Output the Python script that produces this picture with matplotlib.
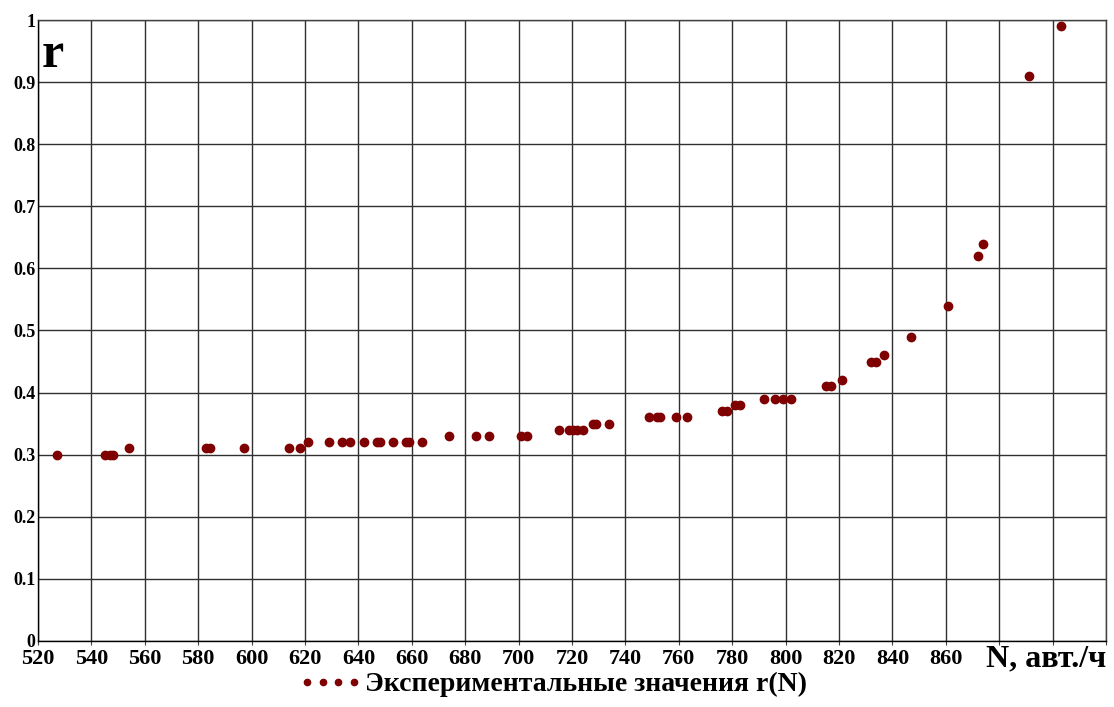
import matplotlib
matplotlib.use("Agg")
import matplotlib.pyplot as plt
from matplotlib.ticker import FuncFormatter

# experimental points r(N)
N = [527, 545, 547, 548, 554, 583, 584.5, 597, 614, 618,
     621, 629, 634, 637, 642, 647, 648, 653, 658, 659, 664,
     674, 684, 689, 701, 703,
     715, 719, 720.5, 722, 724,
     728, 729, 734,
     749, 752, 753, 759, 763,
     776, 778, 781, 783,
     792, 796, 799, 802,
     815, 817, 821,
     832, 834, 837, 847, 861, 872, 874, 891, 903]
r = [0.30, 0.30, 0.30, 0.30, 0.31, 0.31, 0.31, 0.31, 0.31, 0.31,
     0.32, 0.32, 0.32, 0.32, 0.32, 0.32, 0.32, 0.32, 0.32, 0.32, 0.32,
     0.33, 0.33, 0.33, 0.33, 0.33,
     0.34, 0.34, 0.34, 0.34, 0.34,
     0.35, 0.35, 0.35,
     0.36, 0.36, 0.36, 0.36, 0.36,
     0.37, 0.37, 0.38, 0.38,
     0.39, 0.39, 0.39, 0.39,
     0.41, 0.41, 0.42,
     0.45, 0.45, 0.46, 0.49, 0.54, 0.62, 0.64, 0.91, 0.99]

x_ticks = list(range(520, 921, 20))
y_ticks = [i / 10 for i in range(11)]
legend_label = "Экспериментальные значения r(N)"

plt.rcParams['font.family'] = ['Liberation Serif', 'DejaVu Serif']
plt.rcParams['font.weight'] = 'bold'

fig = plt.figure(figsize=(11.14, 7.07), dpi=100)
ax = fig.add_axes([0.0341, 0.0934, 0.9587, 0.8783])

ax.plot(N, r, 'o', color='#7f0000', markersize=6, label=legend_label)

ax.set_xlim(520, 920)
ax.set_ylim(0, 1)
ax.set_xticks(x_ticks)
ax.set_yticks(y_ticks)
ax.xaxis.set_major_formatter(FuncFormatter(lambda v, p: f"{int(v)}" if v <= 860 else ""))
ax.yaxis.set_major_formatter(FuncFormatter(lambda v, p: f"{v:g}"))
ax.tick_params(axis='x', labelsize=16, length=3, pad=3, color='#404040')
ax.tick_params(axis='y', labelsize=13, length=0, pad=2)
for lab in ax.get_xticklabels() + ax.get_yticklabels():
    lab.set_fontweight('bold')

ax.grid(True, color='#303030', linewidth=1)
for s in ax.spines.values():
    s.set_color('#404040')
    s.set_linewidth(1)
ax.spines['left'].set_color('black')
ax.spines['bottom'].set_color('black')

# axis captions
ax.text(0.003, 0.925, "r", transform=ax.transAxes, fontsize=36,
        fontweight='bold', ha='left', va='baseline')
fig.text(0.993, 0.057, "N, авт./ч", fontsize=23, fontweight='bold',
         ha='right', va='baseline')

leg = ax.legend(loc='upper center', bbox_to_anchor=(0.482, -0.05), frameon=False,
                numpoints=4, handlelength=2.3, handletextpad=0.1, markerscale=0.75,
                borderpad=0, borderaxespad=0, prop={'size': 20, 'weight': 'bold'})

fig.savefig("out.png", dpi=100)
